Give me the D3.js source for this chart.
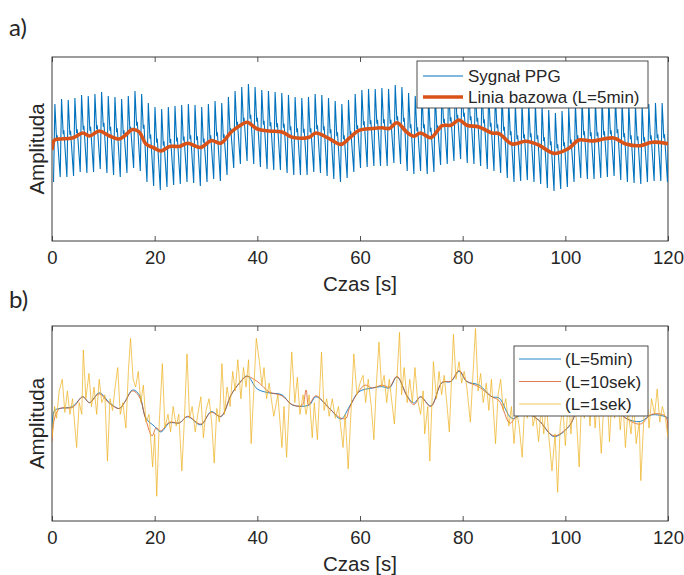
<!DOCTYPE html>
<html>
<head>
<meta charset="utf-8">
<script src="https://cdn.jsdelivr.net/npm/d3@7"></script>
<style>
  body { margin: 0; background: #fff; }
  svg { display: block; }
  text { font-family: "Liberation Sans", Arial, sans-serif; fill: #262626; }
</style>
</head>
<body>
<svg id="chart" width="684" height="575"></svg>
<script>
// ---- x axis ----
const timeTicks = [0, 20, 40, 60, 80, 100, 120];

// ---- PPG beats: onset time [s], systolic peak and diastolic trough amplitude ----
const beatOnset = [0.3,1.6,2.9,4.2,5.5,6.8,8.1,9.4,10.7,12.0,
  13.3,14.6,15.9,17.2,18.5,19.8,21.1,22.4,23.7,25.0,
  26.3,27.6,28.9,30.2,31.5,32.8,34.1,35.4,36.7,38.0,
  39.3,40.6,41.9,43.2,44.5,45.8,47.1,48.4,49.7,51.0,
  52.3,53.6,54.9,56.2,57.5,58.8,60.1,61.4,62.7,64.0,
  65.3,66.6,67.9,69.2,70.5,71.8,73.1,74.4,75.7,77.0,
  78.3,79.6,80.9,82.2,83.5,84.8,86.1,87.4,88.7,90.0,
  91.3,92.6,93.9,95.2,96.5,97.8,99.1,100.4,101.7,103.0,
  104.3,105.6,106.9,108.2,109.5,110.8,112.1,113.4,114.7,116.0,
  117.3,118.6,119.9];
const beatPeak = [0.50,0.55,0.54,0.56,0.59,0.58,0.60,0.62,0.58,0.57,
  0.55,0.58,0.63,0.60,0.51,0.47,0.45,0.47,0.48,0.49,
  0.50,0.49,0.47,0.50,0.53,0.51,0.57,0.63,0.67,0.70,
  0.67,0.64,0.63,0.62,0.61,0.59,0.57,0.56,0.57,0.60,
  0.59,0.56,0.53,0.50,0.54,0.60,0.64,0.65,0.65,0.66,
  0.65,0.69,0.67,0.61,0.58,0.61,0.57,0.60,0.66,0.68,
  0.70,0.72,0.69,0.67,0.66,0.62,0.61,0.58,0.54,0.50,
  0.51,0.52,0.50,0.48,0.44,0.41,0.43,0.46,0.50,0.54,
  0.53,0.53,0.54,0.55,0.56,0.52,0.50,0.49,0.48,0.50,
  0.51,0.51,0.50];
const beatTrough = [-0.28,-0.23,-0.23,-0.22,-0.18,-0.19,-0.18,-0.15,-0.19,-0.21,
  -0.23,-0.19,-0.14,-0.17,-0.28,-0.32,-0.36,-0.33,-0.31,-0.30,
  -0.28,-0.29,-0.32,-0.28,-0.25,-0.27,-0.21,-0.14,-0.10,-0.07,
  -0.10,-0.13,-0.15,-0.16,-0.16,-0.19,-0.21,-0.21,-0.21,-0.18,
  -0.19,-0.22,-0.25,-0.28,-0.24,-0.18,-0.14,-0.13,-0.12,-0.12,
  -0.12,-0.09,-0.10,-0.17,-0.20,-0.17,-0.20,-0.18,-0.11,-0.10,
  -0.07,-0.05,-0.09,-0.10,-0.12,-0.15,-0.17,-0.19,-0.24,-0.28,
  -0.27,-0.26,-0.28,-0.30,-0.34,-0.37,-0.35,-0.33,-0.28,-0.24,
  -0.25,-0.25,-0.24,-0.23,-0.22,-0.26,-0.28,-0.29,-0.30,-0.28,
  -0.27,-0.27,-0.28];
// pulse morphology: [fraction of beat, fraction of peak-to-trough swing]
const pulseShape = [[0.20, 1.0], [0.45, 0.55], [0.55, 0.60]];

// ---- baseline, L = 5 min ----
const base5minTime = [0,0.5,1.5,4,6,7.3,9.2,11.2,13.1,14.1,15.7,17,18.3,19.9,21.2,22.9,24.8,26.4,29,31,
  32.9,34.9,36.5,38,40,42.3,44.8,46.8,50.1,51.4,54,56.3,57.9,59.8,62.4,64.3,65.7,67.2,69.2,70.5,
  71.8,73.8,76,77.7,79.3,80.8,83.2,85.7,87.1,89.6,92.3,94.8,97.8,100.7,102.6,105.2,109.4,111.8,114.6,116.8,
  119.5,120];
const base5minValue = [0.04,0.14,0.15,0.16,0.21,0.18,0.23,0.18,0.15,0.18,0.245,0.22,0.10,0.06,0.03,0.076,0.076,0.108,0.066,0.134,
  0.108,0.22,0.28,0.317,0.25,0.23,0.22,0.168,0.168,0.21,0.153,0.096,0.158,0.236,0.255,0.262,0.255,0.312,0.214,0.178,
  0.21,0.163,0.283,0.288,0.34,0.288,0.27,0.21,0.204,0.10,0.127,0.09,0.006,0.057,0.14,0.13,0.16,0.10,0.083,0.117,
  0.108,0.10];

// ---- baseline, L = 10 s ----
const base10sTime = [0,0.5,1.5,4,6,7.3,9.2,11.2,13.1,14.1,15.7,17,18.3,19.5,20.3,21.2,22.9,24.8,26.4,29,
  31,32.9,34.9,36.5,38,39.3,40.4,42.3,44.8,46.8,48.7,49.5,50.0,51.4,54,56.3,57.3,57.9,59.8,61,
  62.4,64.3,65.7,67.2,69.2,70.5,71.8,73.8,76,77.7,79.3,80.8,83.2,85.7,87.1,89.2,90.5,92.3,94.8,97.8,
  100.7,102.6,105.2,109.4,111.8,114.6,116.8,119.5,120];
const base10sValue = [-0.02,0.10,0.15,0.155,0.21,0.18,0.225,0.175,0.15,0.18,0.24,0.21,0.09,0.01,0.05,0.035,0.08,0.075,0.11,0.07,
  0.13,0.11,0.22,0.28,0.315,0.30,0.28,0.235,0.215,0.17,0.165,0.245,0.17,0.215,0.15,0.10,0.10,0.15,0.24,0.27,
  0.255,0.27,0.26,0.315,0.21,0.17,0.21,0.16,0.285,0.29,0.345,0.29,0.26,0.21,0.19,0.075,0.11,0.13,0.09,0.01,
  0.06,0.14,0.135,0.155,0.10,0.07,0.12,0.11,0.02];

// ---- baseline, L = 1 s : [time, value] ----
const base1s = [[0,0],[0.5,0.16],[0.9,0.10],[1.4,0.24],[2.0,0.30],[2.5,0.13],[3.0,0.24],[3.5,0.12],[4.0,0.20],[4.8,-0.05],
  [5.3,0.18],[5.8,0.12],[6.1,0.45],[6.6,0.20],[7.2,0.33],[7.7,0.16],[8.2,0.26],[8.7,0.12],[9.2,0.30],[9.7,0.18],
  [10.3,0.22],[10.8,-0.12],[11.3,0.20],[11.8,0.14],[12.3,0.26],[12.8,0.36],[13.3,0.12],[13.8,0.18],[14.4,0.05],[14.9,0.35],
  [15.3,0.51],[15.8,0.30],[16.3,0.26],[16.8,0.34],[17.3,0.18],[17.8,0.27],[18.3,0.08],[18.9,0.12],[19.6,-0.15],[20.0,0.02],
  [20.4,-0.30],[20.9,0.08],[21.5,0.38],[22.0,0.05],[22.6,0.12],[23.1,0.03],[23.6,0.16],[24.2,0.06],[24.7,0.12],[25.3,-0.17],
  [25.8,0.10],[26.3,0.43],[26.8,0.10],[27.3,0.16],[27.9,0.03],[28.4,0.12],[29.0,0.21],[29.5,0.00],[30.0,0.14],[30.6,0.20],
  [31.1,0.08],[31.6,-0.13],[32.1,0.15],[32.6,0.08],[33.1,0.38],[33.6,0.12],[34.1,0.26],[34.7,0.16],[35.2,0.34],[35.7,0.24],
  [36.2,0.40],[36.8,0.20],[37.3,0.36],[37.8,0.26],[38.3,0.40],[38.8,-0.03],[39.8,0.51],[40.4,0.39],[40.9,0.27],[41.3,0.36],
  [41.8,0.20],[42.3,0.28],[43.2,0.11],[44.0,0.22],[44.8,-0.05],[45.2,0.16],[45.7,-0.10],[46.7,0.44],[47.3,0.18],[47.8,0.31],
  [48.3,0.12],[48.9,0.22],[49.5,0.12],[50.1,0.22],[50.7,0.00],[51.1,0.18],[51.7,-0.01],[52.5,0.44],[53.0,0.14],[53.5,0.20],
  [54.0,0.11],[54.6,0.20],[55.2,0.10],[55.8,0.16],[56.7,-0.05],[57.1,0.12],[57.7,-0.16],[58.8,0.43],[59.4,0.22],[60.0,0.28],
  [60.6,0.32],[61.1,0.18],[61.6,0.30],[62.2,0.16],[62.7,-0.01],[63.2,0.28],[63.7,0.49],[64.2,0.26],[64.7,0.32],[65.2,0.18],
  [65.7,0.30],[66.7,0.07],[67.2,0.30],[67.7,0.54],[68.1,0.22],[68.6,0.36],[69.2,0.18],[69.7,0.30],[70.2,0.18],[70.7,0.36],
  [71.2,0.20],[71.8,0.12],[72.3,0.24],[72.6,0.02],[73.2,0.16],[73.6,-0.12],[74.3,0.39],[74.9,0.20],[75.4,0.34],[75.9,0.22],
  [76.4,0.32],[76.9,0.18],[77.4,0.03],[78.2,0.53],[78.7,0.30],[79.3,0.39],[79.8,0.28],[80.3,0.34],[80.8,0.26],[81.5,0.08],
  [82.5,0.56],[83.0,0.24],[83.5,0.33],[84.0,0.18],[84.6,0.28],[85.1,0.14],[85.6,0.30],[86.4,-0.03],[86.9,0.22],[87.4,0.30],
  [87.9,0.14],[88.4,0.20],[89.0,0.06],[89.5,0.16],[90.0,-0.03],[90.5,0.14],[91.0,0.06],[91.6,-0.10],[92.1,0.18],[92.6,0.10],
  [93.2,0.30],[93.7,0.06],[94.2,0.12],[94.8,-0.02],[95.3,0.16],[95.8,0.02],[96.3,0.18],[96.8,0.00],[97.4,-0.17],[98.0,0.02],
  [98.5,-0.28],[99.0,0.06],[99.5,0.16],[100.0,-0.04],[100.6,0.20],[101.1,0.02],[101.6,0.22],[102.2,0.08],[102.7,-0.15],[103.2,0.24],
  [103.7,0.10],[104.2,0.30],[104.8,0.06],[105.3,0.26],[105.8,0.05],[106.3,0.22],[107.0,-0.08],[107.5,0.18],[108.0,0.30],[108.6,-0.02],
  [109.1,0.22],[109.6,0.10],[110.1,0.26],[110.7,0.04],[111.2,0.20],[111.7,-0.05],[112.2,0.14],[112.8,0.02],[113.3,0.18],[113.8,-0.03],
  [114.4,0.08],[114.7,-0.22],[115.3,0.10],[115.8,0.25],[116.3,0.05],[116.8,0.20],[117.4,0.12],[117.9,0.25],[118.4,0.08],[118.9,0.16],
  [119.5,0.10],[120.0,0.00]];

const colors = { blue: "#0072BD", orange: "#D95319", yellow: "#EDB120" };

// ---------------------------------------------------------------------------
const svg = d3.select("#chart");
const x = d3.scaleLinear().domain([0, 120]).range([52, 668]);

const panels = [
  { id: "a", top: 57, bottom: 241, domain: [-0.87, 0.97], tag: "a)", tagY: 36 },
  { id: "b", top: 326, bottom: 521, domain: [-0.427, 0.573], tag: "b)", tagY: 308 }
];
panels.forEach(p => {
  p.y = d3.scaleLinear().domain(p.domain).range([p.bottom, p.top]);
  svg.append("clipPath").attr("id", "clip-" + p.id)
    .append("rect").attr("x", x(0)).attr("y", p.top)
    .attr("width", x(120) - x(0)).attr("height", p.bottom - p.top);
});

// PPG waveform points from the beat table
const ppgPoints = [];
beatOnset.forEach((t0, i) => {
  const t1 = i + 1 < beatOnset.length ? beatOnset[i + 1] : t0 + (t0 - beatOnset[i - 1]);
  const period = t1 - t0;
  const lo = beatTrough[i], hi = beatPeak[i];
  ppgPoints.push([t0, lo]);
  pulseShape.forEach(([f, a]) => ppgPoints.push([t0 + f * period, lo + a * (hi - lo)]));
});

function drawFrame(p) {
  const g = svg.append("g");
  // ticks on bottom and top edge, pointing inward
  const bottomAxis = g.append("g").attr("transform", `translate(0,${p.bottom})`)
    .call(d3.axisBottom(x).tickValues(timeTicks).tickSize(-5).tickPadding(10).tickFormat(d3.format("d")));
  const topAxis = g.append("g").attr("transform", `translate(0,${p.top})`)
    .call(d3.axisTop(x).tickValues(timeTicks).tickSize(-5).tickFormat(""));
  [bottomAxis, topAxis].forEach(a => {
    a.select(".domain").remove();
    a.selectAll(".tick line").attr("stroke", "#262626").attr("stroke-width", 0.8);
  });
  bottomAxis.selectAll(".tick text")
    .style("font-size", "18.5px").attr("fill", "#262626");
  // box
  g.append("rect").attr("x", x(0)).attr("y", p.top)
    .attr("width", x(120) - x(0)).attr("height", p.bottom - p.top)
    .attr("fill", "none").attr("stroke", "#3a3a3a").attr("stroke-width", 1);
  // axis titles
  g.append("text").attr("x", (x(0) + x(120)) / 2).attr("y", p.bottom + 50)
    .attr("text-anchor", "middle").style("font-size", "20.5px").text("Czas [s]");
  g.append("text").attr("transform", `translate(44,${(p.top + p.bottom) / 2}) rotate(-90)`)
    .attr("text-anchor", "middle").style("font-size", "20.5px").text("Amplituda");
  // panel tag
  svg.append("text").attr("x", 9).attr("y", p.tagY)
    .style("font-family", "Lato, 'Open Sans', sans-serif").style("font-size", "24px").attr("fill", "#000")
    .text(p.tag);
}

function drawLegend(items, box) {
  const g = svg.append("g");
  g.append("rect").attr("x", box.x).attr("y", box.y).attr("width", box.w).attr("height", box.h)
    .attr("fill", "#fff").attr("stroke", "#3a3a3a").attr("stroke-width", 0.9);
  items.forEach((it, i) => {
    const cy = box.y + box.first + i * box.step;
    g.append("line").attr("x1", box.x + box.lineX0).attr("x2", box.x + box.lineX1)
      .attr("y1", cy).attr("y2", cy).attr("stroke", it.color).attr("stroke-width", it.width)
      .attr("stroke-opacity", it.opacity || 1);
    g.append("text").attr("x", box.x + box.textX).attr("y", cy).attr("dy", "0.36em")
      .style("font-size", "17px").text(it.label);
  });
}

// ---------------- panel a ----------------
const pa = panels[0];
drawFrame(pa);
const ga = svg.append("g").attr("clip-path", "url(#clip-a)");
ga.append("path").datum(ppgPoints)
  .attr("d", d3.line().x(d => x(d[0])).y(d => pa.y(d[1])))
  .attr("fill", "none").attr("stroke", colors.blue).attr("stroke-width", 1.1);
const base5 = base5minTime.map((t, i) => [t, base5minValue[i]]);
ga.append("path").datum(base5)
  .attr("d", d3.line().curve(d3.curveCatmullRom.alpha(0.5)).x(d => x(d[0])).y(d => pa.y(d[1])))
  .attr("fill", "none").attr("stroke", colors.orange).attr("stroke-width", 3.6)
  .attr("stroke-linejoin", "round");
drawLegend([
  { label: "Sygnał PPG", color: colors.blue, width: 1 },
  { label: "Linia bazowa (L=5min)", color: colors.orange, width: 3.6 }
], { x: 417, y: 61, w: 231, h: 47, first: 15, step: 21, lineX0: 6, lineX1: 46, textX: 51 });

// ---------------- panel b ----------------
const pb = panels[1];
drawFrame(pb);
const gb = svg.append("g").attr("clip-path", "url(#clip-b)");
const lineB = d3.line().x(d => x(d[0])).y(d => pb.y(d[1]));
gb.append("path").datum(base5)
  .attr("d", lineB.curve(d3.curveCatmullRom.alpha(0.5)))
  .attr("fill", "none").attr("stroke", colors.blue).attr("stroke-width", 1).attr("stroke-opacity", 0.85);
const base10 = base10sTime.map((t, i) => [t, base10sValue[i]]);
gb.append("path").datum(base10)
  .attr("d", lineB.curve(d3.curveCatmullRom.alpha(0.5)))
  .attr("fill", "none").attr("stroke", colors.orange).attr("stroke-width", 0.9).attr("stroke-opacity", 0.85);
gb.append("path").datum(base1s)
  .attr("d", lineB.curve(d3.curveLinear))
  .attr("fill", "none").attr("stroke", colors.yellow).attr("stroke-width", 0.85).attr("stroke-opacity", 0.85);
drawLegend([
  { label: "(L=5min)", color: colors.blue, width: 1, opacity: 0.85 },
  { label: "(L=10sek)", color: colors.orange, width: 0.9, opacity: 0.85 },
  { label: "(L=1sek)", color: colors.yellow, width: 0.85, opacity: 0.85 }
], { x: 514, y: 346, w: 134, h: 70, first: 13, step: 22.5, lineX0: 5, lineX1: 47, textX: 51 });
</script>
</body>
</html>
